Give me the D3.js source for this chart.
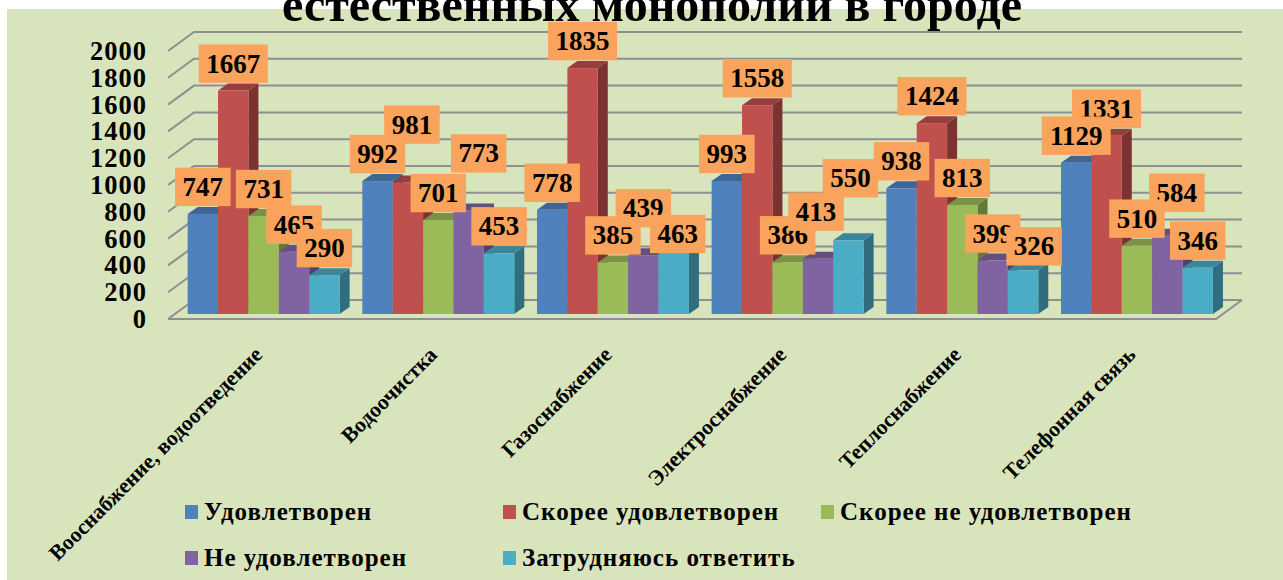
<!DOCTYPE html>
<html lang="ru">
<head>
<meta charset="utf-8">
<title>естественных монополии в городе</title>
<script src="https://d3js.org/d3.v7.min.js"></script>
<style>
  html, body { margin: 0; padding: 0; background: #fff; overflow: hidden; }
  svg { display: block; filter: blur(0.55px); }
  text { font-family: "Liberation Serif", serif; font-weight: bold; fill: #000; }
</style>
</head>
<body>
<script>
var titleText = "естественных монополии в городе";
var categories = ["Вооснабжение, водоотведение", "Водоочистка", "Газоснабжение", "Электроснабжение", "Теплоснабжение", "Телефонная связь"];
var seriesNames = ["Удовлетворен", "Скорее удовлетворен", "Скорее не удовлетворен", "Не удовлетворен", "Затрудняюсь ответить"];
var colors = ["#4f81bd", "#c0504d", "#9bbb59", "#8064a2", "#4bacc6"];
var satisfied = [747, 992, 778, 993, 938, 1129];
var ratherSatisfied = [1667, 981, 1835, 1558, 1424, 1331];
var ratherNot = [731, 701, 385, 386, 813, 510];
var notSatisfied = [465, 773, 439, 413, 399, 584];
var hardToSay = [290, 453, 463, 550, 326, 346];
var seriesValues = [satisfied, ratherSatisfied, ratherNot, notSatisfied, hardToSay];
var yTicks = [0, 200, 400, 600, 800, 1000, 1200, 1400, 1600, 1800, 2000];

// labels dragged by hand in the original: "series,category" -> shift from the default spot
var labelShift = {
    "1,1": [4, -31],
    "3,1": [10, -30],
    "3,2": [0, -20],
    "4,2": [4, 9],
    "3,3": [-2, -20],
    "4,3": [2, -35],
    "4,4": [11, 3],
    "3,5": [9.5, -16]
};
var labelOrder = [1, 0, 2, 3, 4]; // red labels sit under the blue ones in the original
var raisedLabels = ["2,5"];       // 510 lies over 584

var width = 1283, height = 580;
var depthX = 26, depthY = 19;   // wall depth
var barDX = 10, barDY = 7;      // bar depth
var floorLeft = 168, floorRight = 1216, floorY = 319, topY = 51;
var barLift = 5;

var svg = d3.select("body").append("svg")
    .attr("width", width)
    .attr("height", height);

svg.append("rect")
    .attr("x", 7).attr("y", 9)
    .attr("width", width - 7).attr("height", height - 9)
    .attr("fill", "#d8e4bc");

var y = d3.scaleLinear().domain([0, 2000]).range([floorY, topY]);
var x0 = d3.scaleBand().domain(d3.range(categories.length))
    .range([floorLeft + 8.3, floorRight + 8.3])
    .paddingInner(0.13).paddingOuter(0.065);
var x1 = d3.scaleBand().domain(d3.range(seriesNames.length))
    .range([0, x0.bandwidth()]);

// walls and gridlines
var gridColor = "#8f8f8f";
svg.append("g").selectAll("path")
    .data(yTicks)
    .join("path")
    .attr("fill", "none")
    .attr("stroke", gridColor)
    .attr("stroke-width", 2)
    .attr("d", function (d) {
        return "M" + floorLeft + "," + y(d) + "L" + (floorLeft + depthX) + "," + (y(d) - depthY) + "L" + (floorRight + depthX) + "," + (y(d) - depthY);
    });
svg.append("path")
    .attr("fill", "none")
    .attr("stroke", gridColor)
    .attr("stroke-width", 2)
    .attr("d", "M" + floorLeft + "," + floorY + "L" + floorRight + "," + floorY + "L" + (floorRight + depthX) + "," + (floorY - depthY));

// y axis
var yAxis = svg.append("g")
    .attr("transform", "translate(154,0)")
    .call(d3.axisLeft(y).tickValues(yTicks).tickSize(0).tickFormat(d3.format("d")));
yAxis.select(".domain").remove();
yAxis.selectAll("text")
    .attr("x", -7)
    .style("font-size", "26.5px")
    .style("letter-spacing", "1px")
    .style("font-family", "'Liberation Serif', serif")
    .style("fill", "#000");

// bars, left to right so the next bar hides the side of the previous one
categories.forEach(function (c, i) {
    var g = svg.append("g").attr("transform", "translate(" + x0(i) + ",0)");
    seriesValues.forEach(function (vals, s) {
        var v = vals[i];
        var bx = x1(s), bw = x1.bandwidth(), by = y(v) - barLift, bottom = floorY - barLift;
        var col = d3.color(colors[s]);
        g.append("path") // side
            .attr("fill", d3.rgb(col.r * 0.64, col.g * 0.64, col.b * 0.64))
            .attr("d", "M" + (bx + bw) + "," + by + "l" + barDX + "," + (-barDY) + "V" + (bottom - barDY) + "l" + (-barDX) + "," + barDY + "Z");
        g.append("path") // top
            .attr("fill", d3.rgb(col.r * 0.78, col.g * 0.78, col.b * 0.78))
            .attr("d", "M" + bx + "," + by + "l" + barDX + "," + (-barDY) + "h" + bw + "l" + (-barDX) + "," + barDY + "Z");
        g.append("rect")
            .attr("x", bx).attr("y", by)
            .attr("width", bw).attr("height", bottom - by)
            .attr("fill", colors[s]);
    });
});

// value labels
labelOrder.forEach(function (s) {
    seriesValues[s].forEach(function (v, i) {
        var txt = String(v);
        var key = s + "," + i;
        var shift = labelShift[key] || [0, 0];
        var boxW = txt.length === 4 ? 69 : 55.5;
        var cx = x0(i) + x1(s) + x1.bandwidth() / 2 + shift[0];
        var cy = y(v) - barLift - 27 + shift[1];
        var g = svg.append("g").attr("class", "value-label").datum(key);
        g.append("rect")
            .attr("x", cx - boxW / 2).attr("y", cy - 19.2)
            .attr("width", boxW).attr("height", 38.4)
            .attr("fill", "#f9a35c");
        g.append("text")
            .attr("x", cx).attr("y", cy + 9)
            .attr("text-anchor", "middle")
            .style("font-size", "27px")
            .text(txt);
    });
});
svg.selectAll(".value-label")
    .filter(function (d) { return raisedLabels.indexOf(d) >= 0; })
    .raise();

// category labels
svg.append("g").selectAll("text")
    .data(categories)
    .join("text")
    .attr("text-anchor", "end")
    .attr("transform", function (d, i) {
        return "translate(" + (x0(i) + x0.bandwidth() / 2) + ",356) rotate(-45)";
    })
    .style("font-size", "21.7px")
    .text(function (d) { return d; });

// legend
var legend = svg.append("g").selectAll("g")
    .data(seriesNames)
    .join("g")
    .attr("transform", function (d, i) {
        return "translate(" + (185 + 318 * (i % 3)) + "," + (505 + 46 * Math.floor(i / 3)) + ")";
    });
legend.append("rect")
    .attr("width", 13).attr("height", 14)
    .attr("fill", function (d, i) { return colors[i]; });
legend.append("text")
    .attr("x", 19).attr("y", 15)
    .style("font-size", "25px")
    .style("letter-spacing", "1px")
    .text(function (d) { return d; });

// title, its first line is cut off by the window
svg.append("text")
    .attr("x", 652).attr("y", 21)
    .attr("text-anchor", "middle")
    .style("font-size", "48px")
    .text(titleText);
</script>
</body>
</html>
